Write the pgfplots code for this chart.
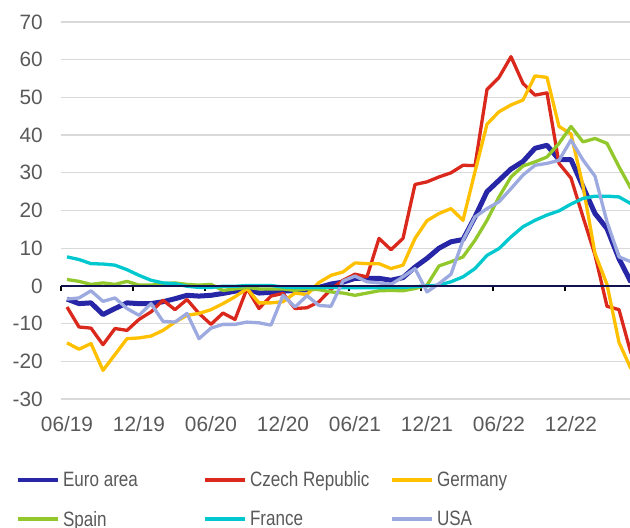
\documentclass[border=0pt]{standalone}
\usepackage{fontspec}
\setmainfont{Liberation Sans}
\newfontfamily\narrowfont[FakeStretch=0.82]{Liberation Sans}
\usepackage{pgfplots}
\usepackage{pgfplotstable}
\pgfplotsset{compat=1.18}
\definecolor{cEuro}{RGB}{38,38,166}
\definecolor{cCz}{RGB}{218,41,28}
\definecolor{cDe}{RGB}{255,192,0}
\definecolor{cEs}{RGB}{146,200,44}
\definecolor{cFr}{RGB}{0,200,206}
\definecolor{cUs}{RGB}{156,170,224}
\definecolor{cAxis}{RGB}{18,18,80}
\definecolor{cGrid}{RGB}{217,217,217}
\definecolor{cText}{RGB}{89,89,89}

\pgfplotstableread{
i euro cz de es fr us
0 -3.5 -5.6 -15.1 1.7 7.7 -3.5
1 -4.7 -10.9 -16.8 1.2 7.0 -3.2
2 -4.5 -11.2 -15.3 0.4 5.9 -1.3
3 -7.6 -15.6 -22.4 0.8 5.8 -4.1
4 -6.0 -11.3 -18.2 0.4 5.5 -3.2
5 -4.5 -11.8 -14.0 1.2 4.3 -6.0
6 -4.7 -8.9 -13.8 0.2 2.8 -7.8
7 -4.7 -6.9 -13.3 0.2 1.5 -4.7
8 -4.2 -3.8 -11.8 0.6 0.8 -9.4
9 -3.4 -6.3 -9.6 0.8 0.6 -9.6
10 -2.5 -3.6 -7.8 0.4 -0.1 -7.3
11 -2.7 -7.3 -7.3 0.2 -0.4 -14.0
12 -2.5 -10.2 -6.3 0.4 -0.4 -11.2
13 -2.0 -7.2 -4.7 -1.2 -0.1 -10.2
14 -1.4 -8.9 -2.9 -0.8 -0.1 -10.2
15 -0.7 -0.7 -0.7 -0.4 0.1 -9.6
16 -1.9 -6.0 -4.5 -0.8 0.1 -9.8
17 -1.7 -2.7 -4.5 -0.8 0.1 -10.4
18 -1.4 -2.0 -4.2 -0.8 -0.3 -2.5
19 -1.2 -6.0 -1.9 -1.2 -0.4 -5.6
20 -1.0 -5.8 -2.3 -0.8 -0.4 -2.6
21 -0.4 -4.2 0.9 -1.0 -0.4 -5.2
22 0.5 -0.9 2.8 -1.6 -0.4 -5.4
23 1.0 1.5 3.7 -1.9 -0.5 1.3
24 2.0 3.1 6.1 -2.5 -0.5 2.6
25 2.0 2.4 5.9 -1.9 -0.5 1.1
26 2.0 12.6 5.9 -1.3 -0.5 0.8
27 1.5 9.6 4.6 -1.2 -0.4 0.4
28 2.2 12.6 5.5 -1.3 -0.4 2.4
29 5.0 26.9 12.6 -0.7 -0.2 4.6
30 7.3 27.6 17.3 0.2 0.0 -1.6
31 10.0 28.9 19.2 5.3 0.2 0.6
32 11.7 30.0 20.5 6.4 1.1 3.1
33 12.3 32.0 17.4 7.7 2.4 12.1
34 18.3 31.9 30.3 12.1 4.6 18.3
35 25.0 52.1 42.9 17.4 8.1 20.5
36 28.0 55.3 46.2 23.6 9.9 22.3
37 31.0 60.8 48.0 28.9 13.0 25.8
38 33.0 53.7 49.3 31.8 15.7 29.4
39 36.5 50.6 55.7 32.9 17.4 32.0
40 37.3 51.2 55.3 34.2 18.8 32.5
41 33.5 32.5 42.3 37.8 19.9 33.3
42 33.5 28.6 40.3 42.3 21.7 38.7
43 26.3 18.3 26.5 38.2 23.2 33.4
44 19.2 8.2 8.6 39.1 23.8 29.1
45 15.2 -5.4 0.4 37.8 23.8 17.0
46 7.2 -6.3 -15.0 31.6 23.6 7.7
47 1.0 -17.9 -22.0 25.8 21.8 6.4
}\data

\begin{document}
\begin{tikzpicture}
\begin{axis}[
  at={(61pt,129pt)}, anchor=south west,
  scale only axis, width=570pt, height=377pt,
  xmin=-0.5, xmax=47, ymin=-30, ymax=70,
  clip=true,
  ytick={-30,-20,...,70},
  ymajorgrids, grid style={cGrid, line width=1.3pt},
  axis y line*=left, y axis line style={draw=none}, ytick style={draw=none},
  axis x line*=middle, x axis line style={cAxis, line width=2pt, -},
  hide obscured x ticks=false, hide obscured y ticks=false,
  xtick={-0.5,5.5,...,41.5}, xticklabels={},
  xtick style={black, line width=1.5pt},
  tick align=outside, major tick length=5pt,
  extra x ticks={0,6,...,42},
  extra x tick labels={06/19,12/19,06/20,12/20,06/21,12/21,06/22,12/22},
  extra x tick style={major tick length=0pt, xticklabel style={anchor=base, inner sep=0pt, yshift=-146pt}},
  /pgf/number format/assume math mode=true,
  ticklabel style={font=\fontsize{20.8}{24}\selectfont, text=cText},
  yticklabel style={anchor=east, inner sep=0pt, xshift=-13pt},
  legend style={at={(axis description cs:-0.0789,-0.192)}, anchor=north west,
    draw=none, fill=none, inner sep=0pt, outer sep=0pt,
    legend columns=3, font=\narrowfont\fontsize{20.8}{24}\selectfont, text=cText,
    nodes={inner sep=0pt},
    /tikz/every odd column/.append style={column sep=3pt},
    row sep=23pt},
  legend cell align=left,
  legend image code/.code={\draw[#1, line width=4pt] (0pt,0pt) -- (40pt,0pt);},
  every axis plot/.append style={line join=round, no markers},
]
\addplot[cEuro, line width=5pt] table[x=i, y=euro] {\data};
\addlegendentry{\makebox[140pt][l]{\rule[-5pt]{0pt}{20pt}Euro area}}
\addplot[cCz, line width=3.3pt] table[x=i, y=cz] {\data};
\addlegendentry{\makebox[140pt][l]{\rule[-5pt]{0pt}{20pt}Czech Republic}}
\addplot[cDe, line width=3.3pt] table[x=i, y=de] {\data};
\addlegendentry{\makebox[140pt][l]{\rule[-5pt]{0pt}{20pt}Germany}}
\addplot[cEs, line width=3.3pt] table[x=i, y=es] {\data};
\addlegendentry{\makebox[140pt][l]{\rule[-5pt]{0pt}{20pt}Spain}}
\addplot[cFr, line width=3.3pt] table[x=i, y=fr] {\data};
\addlegendentry{\makebox[140pt][l]{\rule[-5pt]{0pt}{20pt}France}}
\addplot[cUs, line width=3.3pt] table[x=i, y=us] {\data};
\addlegendentry{\makebox[140pt][l]{\rule[-5pt]{0pt}{20pt}USA}}
\addplot[cAxis, line width=2pt, forget plot] coordinates {(-0.5,0) (47,0)};
\end{axis}
\pgfresetboundingbox
\path (0pt,0pt) rectangle (630pt,528pt);
\end{tikzpicture}
\end{document}
